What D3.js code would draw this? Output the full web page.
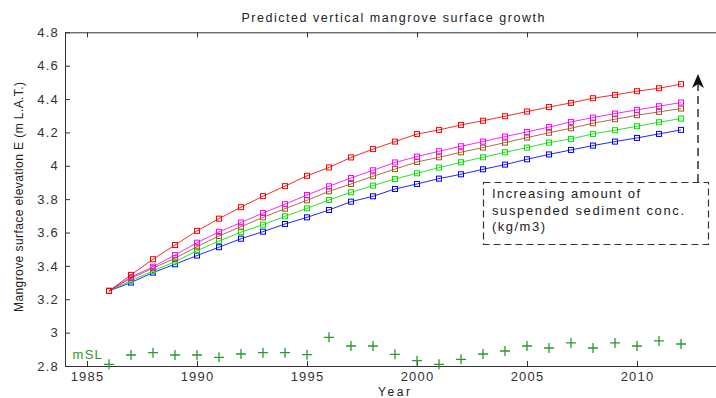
<!DOCTYPE html>
<html><head><meta charset="utf-8">
<script src="https://cdn.jsdelivr.net/npm/d3@7"></script>
<style>
html,body{margin:0;padding:0;background:#fff;}
svg{display:block;font-family:"Liberation Sans",Arial,Helvetica,sans-serif;}
</style></head>
<body>
<div id="chart"></div>
<script>
const years = d3.range(1986, 2013);
const seriesBlue = [3.25,3.30,3.36,3.41,3.462,3.512,3.563,3.605,3.651,3.691,3.735,3.785,3.817,3.861,3.891,3.923,3.949,3.979,4.007,4.039,4.068,4.095,4.121,4.145,4.167,4.191,4.215];
const seriesGreen = [3.25,3.311,3.37,3.425,3.491,3.549,3.602,3.647,3.697,3.745,3.795,3.841,3.881,3.921,3.955,3.989,4.021,4.051,4.081,4.109,4.139,4.161,4.191,4.213,4.237,4.261,4.283];
const seriesBrown = [3.25,3.326,3.386,3.446,3.515,3.579,3.635,3.691,3.743,3.793,3.847,3.891,3.937,3.98,4.023,4.051,4.081,4.109,4.139,4.169,4.198,4.225,4.255,4.279,4.303,4.323,4.343];
const seriesMagenta = [3.25,3.332,3.395,3.465,3.539,3.604,3.66,3.717,3.77,3.825,3.877,3.927,3.973,4.02,4.055,4.087,4.117,4.145,4.175,4.203,4.232,4.263,4.289,4.313,4.335,4.357,4.379];
const seriesRed = [3.25,3.346,3.44,3.525,3.61,3.683,3.752,3.818,3.878,3.94,3.99,4.05,4.10,4.145,4.19,4.215,4.245,4.27,4.297,4.325,4.352,4.377,4.405,4.425,4.447,4.465,4.489];
const mslValues = [2.81,2.866,2.88,2.866,2.866,2.852,2.872,2.88,2.88,2.868,2.972,2.92,2.92,2.87,2.832,2.81,2.84,2.872,2.89,2.92,2.908,2.938,2.908,2.938,2.92,2.95,2.932];
const seriesColors = ["#0000ff","#00e000","#a8501e","#ff00ff","#ff0000"];
const xTicks = [1985,1990,1995,2000,2005,2010];
const yTicks = [2.8,3,3.2,3.4,3.6,3.8,4,4.2,4.4,4.6,4.8];
const yTickLabels = ["2.8","3","3.2","3.4","3.6","3.8","4","4.2","4.4","4.6","4.8"];
const titleText = "Predicted vertical mangrove surface growth";
const yLabelText = "Mangrove surface elevation E (m L.A.T.)";
const xLabelText = "Year";
const noteLines = ["Increasing amount of","suspended sediment conc.","(kg/m3)"];
const mslLabel = "mSL";

const W = 716, H = 398;
const svg = d3.select("#chart").append("svg").attr("width", W).attr("height", H);

const x = d3.scaleLinear().domain([1984, 2014]).range([65, 725]);
const y = d3.scaleLinear().domain([2.8, 4.8]).range([366, 32.3]);

// title
svg.append("text").attr("x", 393).attr("y", 22).attr("text-anchor","middle")
  .attr("font-size", 12.5).attr("textLength", 303).attr("lengthAdjust","spacing")
  .attr("fill","#222").text(titleText);

// axes
const axStyle = g => {
  g.select(".domain").attr("stroke","#333");
  g.selectAll(".tick line").attr("stroke","#333");
  g.selectAll(".tick text").attr("fill","#333").attr("font-size",13).attr("letter-spacing","1.2px")
    .attr("font-family","'Liberation Sans',Arial,sans-serif");
};
svg.append("g").attr("transform","translate(0,366)")
  .call(d3.axisBottom(x).tickValues(xTicks).tickFormat(d3.format("d")).tickSize(-5).tickSizeOuter(0).tickPadding(6))
  .call(axStyle);
svg.append("g").attr("transform","translate(0,32.3)")
  .call(d3.axisTop(x).tickValues(xTicks).tickFormat("").tickSize(-5).tickSizeOuter(0))
  .call(axStyle);
svg.append("g").attr("transform","translate(65,0)")
  .call(d3.axisLeft(y).tickValues(yTicks).tickFormat((d,i)=>yTickLabels[i]).tickSize(-5).tickSizeOuter(0).tickPadding(6))
  .call(axStyle);

// axis labels
svg.append("text").attr("transform","translate(23,197) rotate(-90)").attr("text-anchor","middle")
  .attr("font-size",12).attr("textLength",230).attr("lengthAdjust","spacing")
  .attr("fill","#222").text(yLabelText);
svg.append("text").attr("x",394).attr("y",396).attr("text-anchor","middle")
  .attr("font-size",12).attr("textLength",32).attr("lengthAdjust","spacing")
  .attr("fill","#222").text(xLabelText);

// series
const allSeries = [seriesBlue, seriesGreen, seriesBrown, seriesMagenta, seriesRed];
const line = d3.line().x((d,i)=>x(years[i])).y(d=>y(d));
allSeries.forEach((s, k) => {
  const g = svg.append("g");
  g.append("path").datum(s).attr("d", line).attr("fill","none")
    .attr("stroke", seriesColors[k]).attr("stroke-width",1).attr("stroke-opacity",0.85);
  g.selectAll("rect").data(s).enter().append("rect")
    .attr("x",(d,i)=>x(years[i])-2.5).attr("y",d=>y(d)-2.5)
    .attr("width",5).attr("height",5).attr("fill","none")
    .attr("stroke", seriesColors[k]).attr("stroke-width",1);
});

// mSL markers
const mslColor = "#2a9a2a";
svg.append("g").selectAll("path").data(mslValues).enter().append("path")
  .attr("d",(d,i)=>{const cx=x(years[i]), cy=y(d); return `M${cx-5},${cy}H${cx+5}M${cx},${cy-5}V${cy+5}`;})
  .attr("stroke",mslColor).attr("stroke-width",1.3).attr("fill","none");
svg.append("text").attr("x",72.5).attr("y",359).attr("font-size",13).attr("letter-spacing","1.3px")
  .attr("fill",mslColor).text(mslLabel);

// dashed note box
svg.append("rect").attr("x",483.5).attr("y",182.5).attr("width",225).attr("height",62)
  .attr("fill","#fff").attr("stroke","#333").attr("stroke-width",1.2).attr("stroke-dasharray","7,4");
const noteWidths = [148,192,53];
noteLines.forEach((t,i)=>{
  svg.append("text").attr("x",492).attr("y",198+i*16.5).attr("font-size",13)
    .attr("textLength",noteWidths[i]).attr("lengthAdjust","spacing").attr("fill","#222").text(t);
});

// arrow
svg.append("path").attr("d","M698,182V84").attr("stroke","#111").attr("stroke-width",1.3)
  .attr("stroke-dasharray","8,5").attr("fill","none");
svg.append("path").attr("d","M698,74L692,88L698,84L704,88Z").attr("fill","#111");
</script>
</body></html>
